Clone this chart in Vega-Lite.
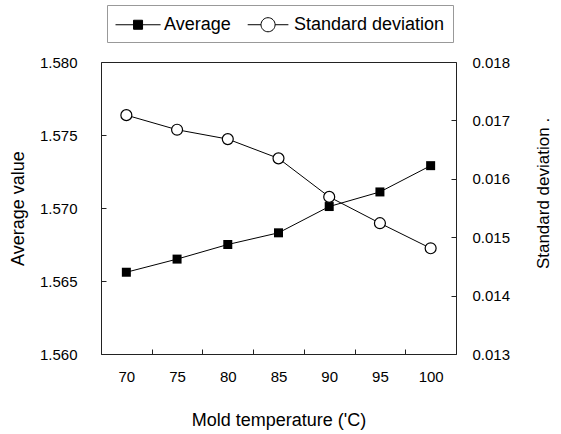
{
  "$schema": "https://vega.github.io/schema/vega-lite/v6.json",
  "width": 355,
  "height": 292,
  "autosize": {"type": "none"},
  "padding": {"left": 101, "top": 62, "right": 105, "bottom": 80},
  "background": "white",
  "config": {
    "font": "Liberation Sans",
    "view": {"stroke": "#222", "strokeWidth": 1},
    "axis": {
      "grid": false,
      "domain": false,
      "labelFont": "Liberation Sans",
      "labelFontSize": 15,
      "labelColor": "black",
      "titleFont": "Liberation Sans",
      "titleFontSize": 18,
      "titleFontWeight": "normal",
      "titleColor": "black",
      "tickColor": "#222",
      "tickSize": -5
    },
    "legend": {
      "orient": "none",
      "legendX": 6,
      "legendY": -57,
      "direction": "horizontal",
      "symbolSize": 484,
      "symbolStrokeColor": "black",
      "symbolStrokeWidth": 1,
      "symbolOpacity": 1,
      "labelFontSize": 18,
      "labelFont": "Liberation Sans",
      "labelColor": "black",
      "labelOffset": 26,
      "strokeColor": "#999",
      "padding": 8,
      "columnPadding": 14
    }
  },
  "data": {
    "values": [
      {"temp": 70, "series": "Average", "value": 1.5656},
      {"temp": 75, "series": "Average", "value": 1.5665},
      {"temp": 80, "series": "Average", "value": 1.5675},
      {"temp": 85, "series": "Average", "value": 1.5683},
      {"temp": 90, "series": "Average", "value": 1.5701},
      {"temp": 95, "series": "Average", "value": 1.5711},
      {"temp": 100, "series": "Average", "value": 1.5729},
      {"temp": 70, "series": "Standard deviation", "value": 0.01709},
      {"temp": 75, "series": "Standard deviation", "value": 0.01684},
      {"temp": 80, "series": "Standard deviation", "value": 0.01668},
      {"temp": 85, "series": "Standard deviation", "value": 0.01635},
      {"temp": 90, "series": "Standard deviation", "value": 0.01569},
      {"temp": 95, "series": "Standard deviation", "value": 0.01524},
      {"temp": 100, "series": "Standard deviation", "value": 0.01481}
    ]
  },
  "encoding": {
    "x": {
      "field": "temp",
      "type": "ordinal",
      "scale": {"type": "band", "paddingInner": 0, "paddingOuter": 0},
      "axis": {
        "title": "Mold temperature ('C)",
        "labelAngle": 0,
        "tickBand": "extent",
        "labelPadding": 20,
        "titlePadding": 27
      }
    }
  },
  "layer": [
    {
      "transform": [{"filter": "datum.series === 'Average'"}],
      "encoding": {
        "y": {
          "field": "value",
          "type": "quantitative",
          "scale": {"domain": [1.56, 1.58], "zero": false, "nice": false},
          "axis": {
            "orient": "left",
            "title": "Average value",
            "values": [1.56, 1.565, 1.57, 1.575, 1.58],
            "format": ".3f",
            "labelPadding": 29,
            "titlePadding": 12
          }
        }
      },
      "layer": [
        {"mark": {"type": "line", "color": "black", "strokeWidth": 1}, "encoding": {}},
        {"mark": {"type": "point", "shape": "square", "filled": true, "color": "black", "size": 81, "opacity": 1}, "encoding": {}},
        {
          "mark": {"type": "point", "opacity": 0, "filled": true},
          "encoding": {
            "shape": {
              "field": "series",
              "type": "nominal",
              "title": null,
              "scale": {
                "domain": ["Average", "Standard deviation"],
                "range": [
                  "M-1,0H0.64M1.46,0H3.1M0.64,-0.41H1.46V0.41H0.64Z",
                  "M-0.8,0H0.41M1.69,0H2.9M0.41,0A0.64,0.64 0 1,0 1.69,0A0.64,0.64 0 1,0 0.41,0Z"
                ]
              }
            },
            "fill": {
              "field": "series",
              "type": "nominal",
              "title": null,
              "scale": {"domain": ["Average", "Standard deviation"], "range": ["black", "white"]}
            },
            "stroke": {
              "field": "series",
              "type": "nominal",
              "title": null,
              "scale": {"domain": ["Average", "Standard deviation"], "range": ["black", "black"]}
            }
          }
        }
      ]
    },
    {
      "transform": [{"filter": "datum.series === 'Standard deviation'"}],
      "encoding": {
        "y": {
          "field": "value",
          "type": "quantitative",
          "scale": {"domain": [0.013, 0.018], "zero": false, "nice": false},
          "axis": {
            "orient": "right",
            "title": "Standard deviation   .",
            "titleAngle": 270,
            "titleFontSize": 17,
            "titleY": 131,
            "values": [0.013, 0.014, 0.015, 0.016, 0.017, 0.018],
            "format": ".3f",
            "labelPadding": 21,
            "titlePadding": 43
          }
        }
      },
      "layer": [
        {"mark": {"type": "line", "color": "black", "strokeWidth": 1}, "encoding": {}},
        {"mark": {"type": "point", "shape": "circle", "filled": true, "fill": "white", "stroke": "black", "strokeWidth": 1.2, "size": 120, "opacity": 1}, "encoding": {}},
        {
          "mark": {"type": "point", "opacity": 0, "filled": true},
          "encoding": {
            "shape": {"field": "series", "type": "nominal", "title": null},
            "fill": {"field": "series", "type": "nominal", "title": null},
            "stroke": {"field": "series", "type": "nominal", "title": null}
          }
        }
      ]
    }
  ],
  "resolve": {"scale": {"y": "independent"}}
}
